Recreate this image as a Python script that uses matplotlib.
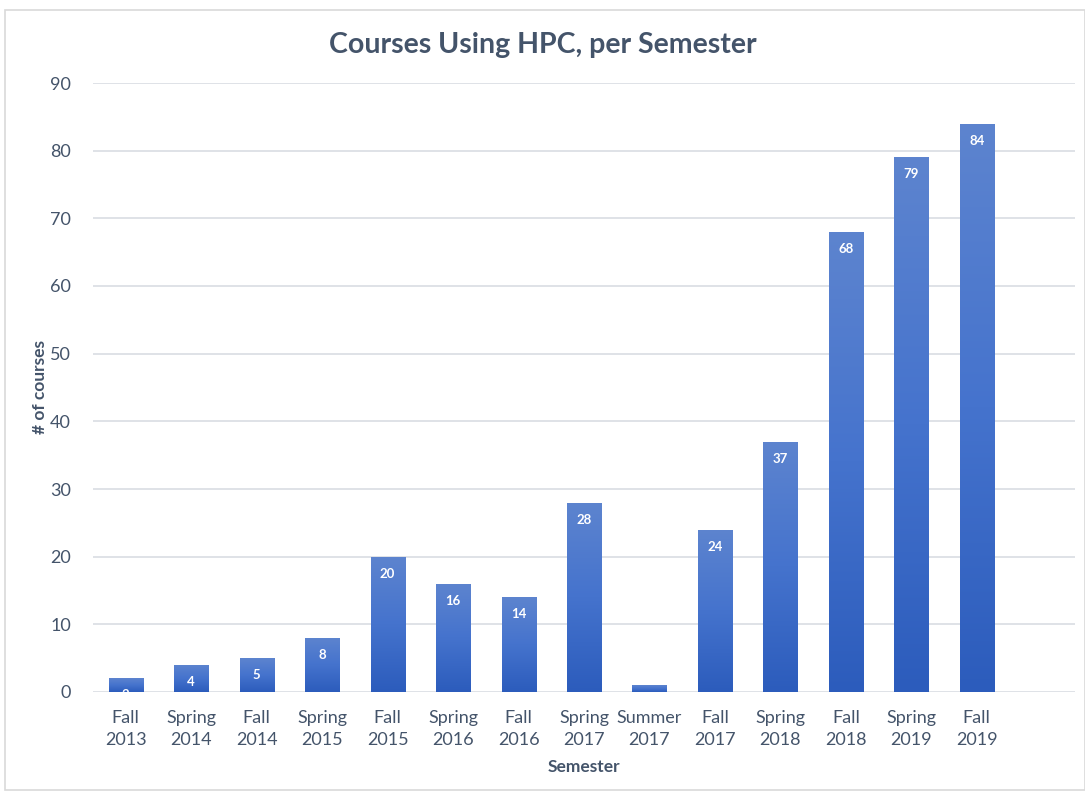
import matplotlib
matplotlib.use("Agg")
import matplotlib.pyplot as plt
import numpy as np
from matplotlib.colors import LinearSegmentedColormap
from matplotlib.patches import Rectangle

semesters = ["Fall\n2013", "Spring\n2014", "Fall\n2014", "Spring\n2015", "Fall\n2015",
             "Spring\n2016", "Fall\n2016", "Spring\n2017", "Summer\n2017", "Fall\n2017",
             "Spring\n2018", "Fall\n2018", "Spring\n2019", "Fall\n2019"]
courses = [2, 4, 5, 8, 20, 16, 14, 28, 1, 24, 37, 68, 79, 84]

plt.rcParams['font.family'] = ['Lato', 'DejaVu Sans']
txt = '#44546a'

fig = plt.figure(figsize=(10.85, 7.91), dpi=100)
ax = fig.add_axes([93/1085, 99/791, (1075-93)/1085, (692-83)/791])

x = np.arange(len(courses))
bars = ax.bar(x, courses, width=0.52, color='none', edgecolor='none', zorder=2)
cmap = LinearSegmentedColormap.from_list('g', ['#2c5cbc', '#4573cd', '#5d84cf'])
grad = np.linspace(0, 1, 256).reshape(-1, 1)
for b in bars:
    x0, y0, w, h = b.get_x(), b.get_y(), b.get_width(), b.get_height()
    im = ax.imshow(grad, cmap=cmap, origin='lower', aspect='auto',
                   extent=[x0, x0 + w, y0, y0 + h], zorder=2)
    im.set_clip_path(b)

for xi, v in zip(x, courses):
    ax.annotate(str(v), (xi, v), xytext=(0, -17), textcoords='offset pixels',
                ha='center', va='center', color='white', fontsize=9.5, fontweight='bold', zorder=3)

ax.set_xlim(-0.5, 14.5)
ax.set_ylim(0, 90)
ax.set_yticks(range(0, 91, 10))
ax.set_xticks(x)
ax.set_xticklabels(semesters, fontsize=13, color=txt, linespacing=1.45)
ax.tick_params(axis='y', labelsize=13, labelcolor=txt, length=0, pad=16)
ax.tick_params(axis='x', length=0, pad=13)
ax.grid(axis='y', color='#d9dde3', linewidth=1.2, zorder=0)
ax.set_axisbelow(True)
for s in ax.spines.values():
    s.set_visible(False)

ax.set_ylabel('# of courses', fontsize=12.5, fontweight='bold', color=txt)
ax.yaxis.set_label_coords((40 - 93) / 982, 0.5)
ax.yaxis.label.set_va('center')
ax.set_xlabel('Semester', fontsize=12.5, fontweight='bold', color=txt)
ax.xaxis.set_label_coords(0.5, (692 - 767) / 609)
ax.xaxis.label.set_va('center')
fig.text(0.5, 1 - 45/791, 'Courses Using HPC, per Semester', ha='center', va='center',
         fontsize=20.5, fontweight='bold', color=txt)

fig.patches.append(Rectangle((5/1085, 1/791), 1 - 5/1085, 1 - 11/791, transform=fig.transFigure,
                             fill=False, edgecolor='#d9d9d9', linewidth=1.2))

fig.savefig('out.png', dpi=100)
